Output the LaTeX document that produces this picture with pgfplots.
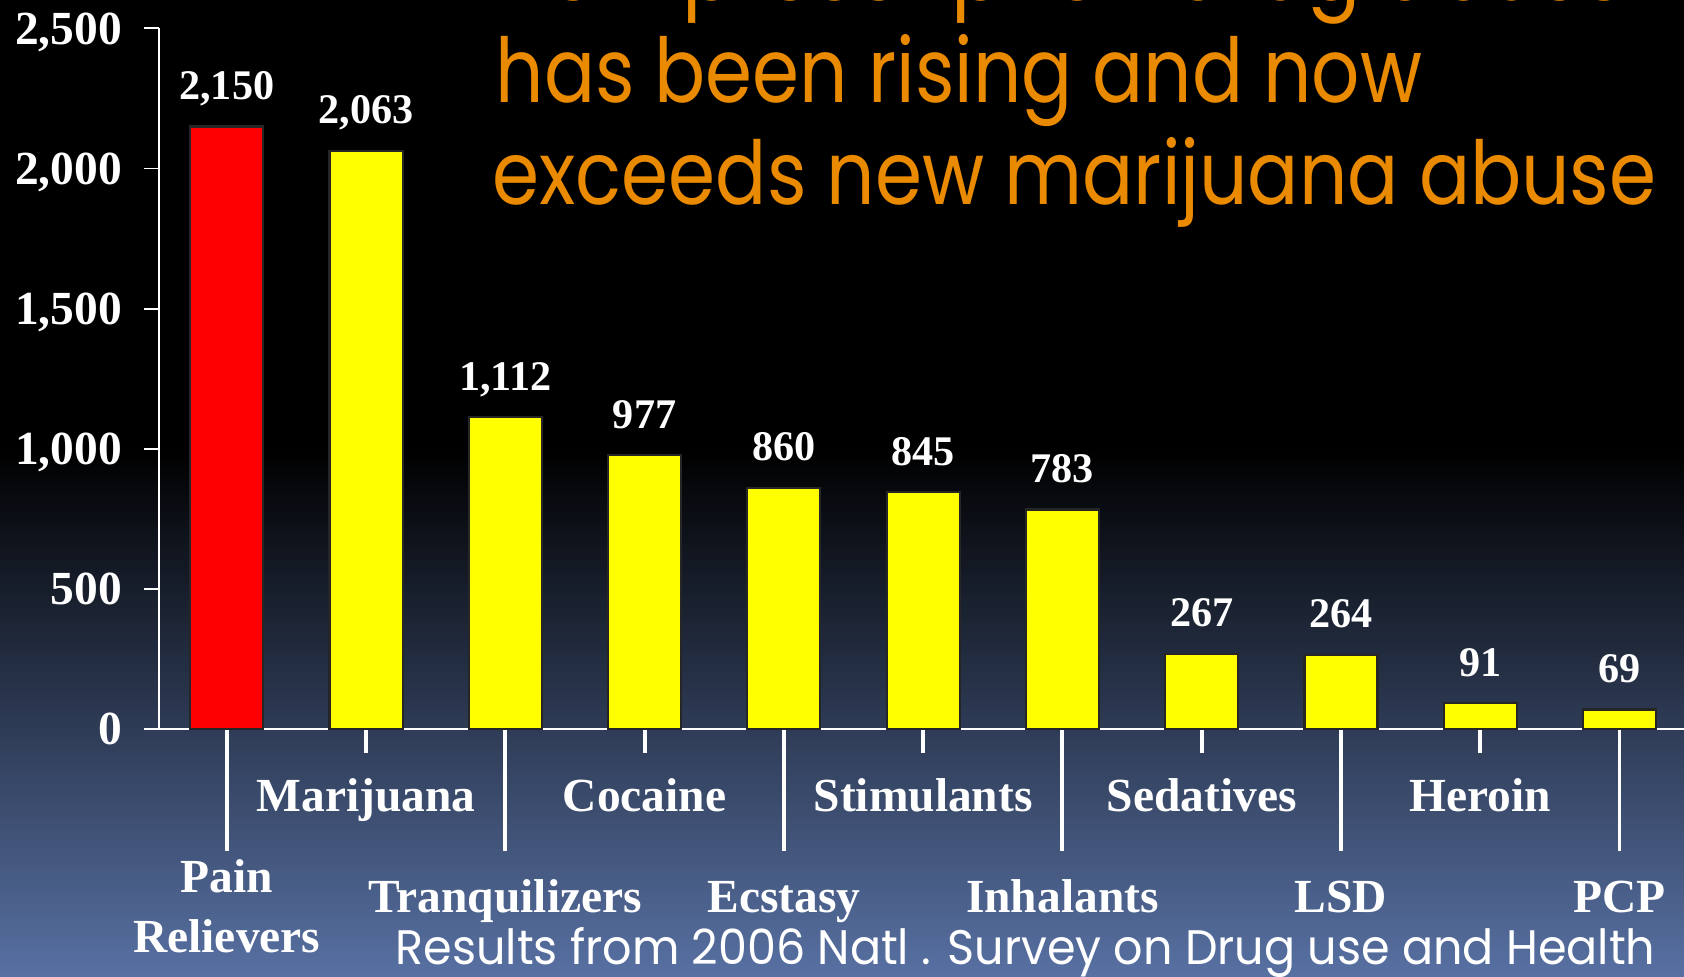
\documentclass[border=0pt]{standalone}
\usepackage{pgfplots}
\pgfplotsset{compat=1.18}
\usepackage{graphicx}
\usepackage{fontspec}
\setmainfont{Liberation Serif}
\newfontfamily\comic{Poppins}
\definecolor{bgblue}{RGB}{88,113,163}
\definecolor{titleorange}{RGB}{233,138,0}
\definecolor{baryellow}{RGB}{255,255,0}
\definecolor{barred}{RGB}{255,0,0}
\definecolor{edge}{RGB}{38,38,38}
\newcommand\lbl{\fontsize{13.5}{16.8}\selectfont\bfseries}
\newcommand\val{\fontsize{12}{14}\selectfont\bfseries}
\begin{document}
\begin{tikzpicture}[x=0.01cm,y=0.01cm]
\useasboundingbox (0,0) rectangle (1684,977);
\clip (0,0) rectangle (1684,977);
\fill[black] (0,0) rectangle (1684,977);
\shade[top color=black, bottom color=bgblue] (0,0) rectangle (1684,527);
\begin{axis}[
  at={(1.59cm,2.48cm)}, anchor=south west,
  scale only axis, width=15.25cm, height=7cm,
  xmin=-0.486, xmax=10.47, ymin=0, ymax=2500,
  clip=false,
  axis x line*=bottom, axis y line*=left,
  x axis line style={-, draw=white, line width=0.75pt},
  y axis line style={-, draw=white, line width=0.55pt},
  tick align=outside, major tick length=0.24cm,
  xtick={1,3,5,7,9},
  xticklabels={Marijuana,Cocaine,Stimulants,Sedatives,Heroin},
  xtick style={draw=white, line width=1.1pt},
  ytick=\empty,
  extra x ticks={0,2,4,6,8,10},
  extra x tick labels={{\raisebox{0.2cm}{\begin{tabular}[t]{@{}c@{}}Pain\\Relievers\end{tabular}}},Tranquilizers,Ecstasy,Inhalants,LSD,PCP},
  extra x tick style={major tick length=1.22cm, tick style={draw=white, line width=1.1pt}, xticklabel style={yshift=-0.03cm}},
  extra y ticks={0,500,1000,1500,2000,2500},
  extra y tick style={major tick length=0.15cm, tick style={draw=white, line width=0.55pt}},
  xticklabel style={font=\lbl, text=white, anchor=base, inner sep=0pt, yshift=-0.59cm},
  yticklabel style={font=\lbl, text=white, anchor=base east, inner sep=0pt, xshift=-0.215cm, yshift=-0.16cm},
  scaled y ticks=false,
  nodes near coords={\pgfmathprintnumber{\pgfplotspointmeta}},
  every node near coord/.append style={font=\val, text=white, anchor=south, inner sep=0pt, text depth=0pt, yshift=0.26cm},
  /pgf/number format/.cd, 1000 sep={,}, assume math mode=true, /pgfplots/.cd,
]
\addplot[ybar, bar width=0.73cm, bar shift=0pt, fill=barred, draw=edge, line width=0.6pt]
  coordinates {(0,2150)};
\addplot[ybar, bar width=0.73cm, bar shift=0pt, fill=baryellow, draw=edge, line width=0.6pt]
  coordinates {(1,2063) (2,1112) (3,977) (4,860) (5,845) (6,783) (7,267) (8,264) (9,91) (10,69)};
\end{axis}
\node[anchor=base west, inner sep=0pt, text=titleorange] at (492,976)
  {\resizebox{11.35cm}{0.67cm}{\comic New prescription drug abuse}};
\node[anchor=base west, inner sep=0pt, text=titleorange] at (495,874)
  {\resizebox{9.26cm}{0.68cm}{\comic has been rising and now}};
\node[anchor=base west, inner sep=0pt, text=titleorange] at (492,772)
  {\resizebox{11.63cm}{0.67cm}{\comic exceeds new marijuana abuse}};
\node[anchor=base west, inner sep=0pt, text=white] at (395,12)
  {\resizebox{12.59cm}{0.37cm}{\comic Results from 2006 Natl . Survey on Drug use and Health}};
\end{tikzpicture}
\end{document}
